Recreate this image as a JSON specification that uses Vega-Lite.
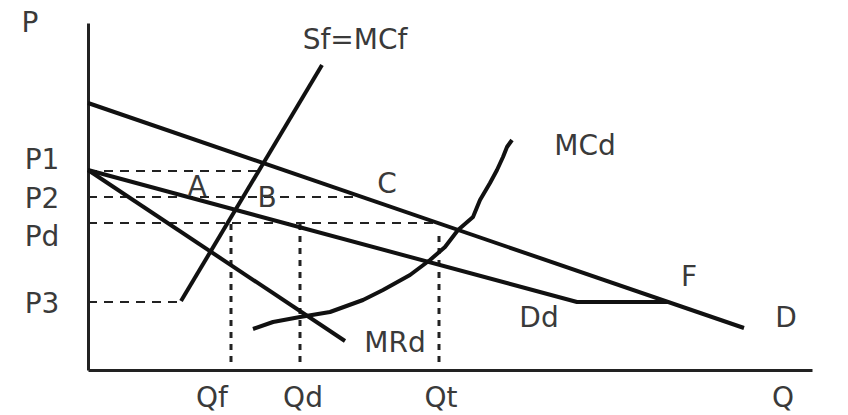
{
  "$schema": "https://vega.github.io/schema/vega-lite/v6.json",
  "autosize": "none",
  "width": 724,
  "height": 347,
  "padding": {"left": 88, "top": 23, "right": 36, "bottom": 45},
  "background": "white",
  "config": {
    "view": {"stroke": null},
    "axis": {"grid": false, "ticks": false, "labels": false, "title": null, "domainColor": "#222", "domainWidth": 3}
  },
  "datasets": {
    "curves": [
      {"series": "D", "order": 1, "q": 0, "p": 267},
      {"series": "D", "order": 2, "q": 656, "p": 42},
      {"series": "Sf", "order": 1, "q": 93, "p": 69},
      {"series": "Sf", "order": 2, "q": 234, "p": 305},
      {"series": "MRd", "order": 1, "q": 0, "p": 200},
      {"series": "MRd", "order": 2, "q": 257, "p": 29},
      {"series": "Dd", "order": 1, "q": 0, "p": 200},
      {"series": "Dd", "order": 2, "q": 489, "p": 68},
      {"series": "Dd", "order": 3, "q": 580, "p": 68},
      {"series": "MCd", "order": 1, "q": 165, "p": 41},
      {"series": "MCd", "order": 2, "q": 185, "p": 48},
      {"series": "MCd", "order": 3, "q": 212, "p": 53},
      {"series": "MCd", "order": 4, "q": 242, "p": 58},
      {"series": "MCd", "order": 5, "q": 275, "p": 70},
      {"series": "MCd", "order": 6, "q": 295, "p": 80},
      {"series": "MCd", "order": 7, "q": 322, "p": 95},
      {"series": "MCd", "order": 8, "q": 342, "p": 110},
      {"series": "MCd", "order": 9, "q": 357, "p": 123},
      {"series": "MCd", "order": 10, "q": 370, "p": 140},
      {"series": "MCd", "order": 11, "q": 385, "p": 153},
      {"series": "MCd", "order": 12, "q": 392, "p": 170},
      {"series": "MCd", "order": 13, "q": 402, "p": 187},
      {"series": "MCd", "order": 14, "q": 409, "p": 200},
      {"series": "MCd", "order": 15, "q": 415, "p": 213},
      {"series": "MCd", "order": 16, "q": 419, "p": 223},
      {"series": "MCd", "order": 17, "q": 424, "p": 230}
    ],
    "priceGuides": [
      {"level": "P1", "p": 199, "q0": 0, "q1": 171},
      {"level": "P2", "p": 173, "q0": 0, "q1": 265},
      {"level": "Pd", "p": 147, "q0": 0, "q1": 350},
      {"level": "P3", "p": 68, "q0": 0, "q1": 93}
    ],
    "quantityGuides": [
      {"level": "Qf", "q": 143, "p0": 8, "p1": 147},
      {"level": "Qd", "q": 212, "p0": 8, "p1": 147},
      {"level": "Qt", "q": 351, "p0": 8, "p1": 138}
    ],
    "labels": [
      {"text": "P", "q": -58, "p": 346},
      {"text": "P1", "q": -46, "p": 209},
      {"text": "P2", "q": -46, "p": 170},
      {"text": "Pd", "q": -46, "p": 132},
      {"text": "P3", "q": -46, "p": 65},
      {"text": "Qf", "q": 124, "p": -29},
      {"text": "Qd", "q": 215, "p": -29},
      {"text": "Qt", "q": 353, "p": -29},
      {"text": "Q", "q": 695, "p": -29},
      {"text": "Sf=MCf", "q": 267, "p": 329},
      {"text": "MCd", "q": 497, "p": 223},
      {"text": "A", "q": 109, "p": 182},
      {"text": "B", "q": 179, "p": 171},
      {"text": "C", "q": 299, "p": 185},
      {"text": "F", "q": 601, "p": 92},
      {"text": "Dd", "q": 451, "p": 51},
      {"text": "D", "q": 698, "p": 51},
      {"text": "MRd", "q": 307, "p": 26}
    ]
  },
  "encoding": {
    "x": {"type": "quantitative", "scale": {"domain": [0, 724], "nice": false, "zero": false}, "axis": {"orient": "bottom"}},
    "y": {"type": "quantitative", "scale": {"domain": [0, 347], "nice": false, "zero": false}, "axis": {"orient": "left"}}
  },
  "layer": [
    {
      "data": {"name": "priceGuides"},
      "mark": {"type": "rule", "color": "#222", "strokeWidth": 2, "strokeDash": [9, 7]},
      "encoding": {
        "x": {"field": "q0", "type": "quantitative"},
        "x2": {"field": "q1"},
        "y": {"field": "p", "type": "quantitative"}
      }
    },
    {
      "data": {"name": "quantityGuides"},
      "mark": {"type": "rule", "color": "#222", "strokeWidth": 3, "strokeDash": [6, 6]},
      "encoding": {
        "x": {"field": "q", "type": "quantitative"},
        "y": {"field": "p0", "type": "quantitative"},
        "y2": {"field": "p1"}
      }
    },
    {
      "data": {"name": "curves"},
      "mark": {"type": "line", "color": "#111", "strokeWidth": 4, "strokeJoin": "round", "clip": false},
      "encoding": {
        "x": {"field": "q", "type": "quantitative"},
        "y": {"field": "p", "type": "quantitative"},
        "detail": {"field": "series"},
        "order": {"field": "order", "type": "quantitative"}
      }
    },
    {
      "data": {"name": "labels"},
      "mark": {"type": "text", "font": "DejaVu Sans", "fontSize": 28, "color": "#3a3a3a", "align": "center", "baseline": "middle"},
      "encoding": {
        "x": {"field": "q", "type": "quantitative"},
        "y": {"field": "p", "type": "quantitative"},
        "text": {"field": "text"}
      }
    }
  ]
}
